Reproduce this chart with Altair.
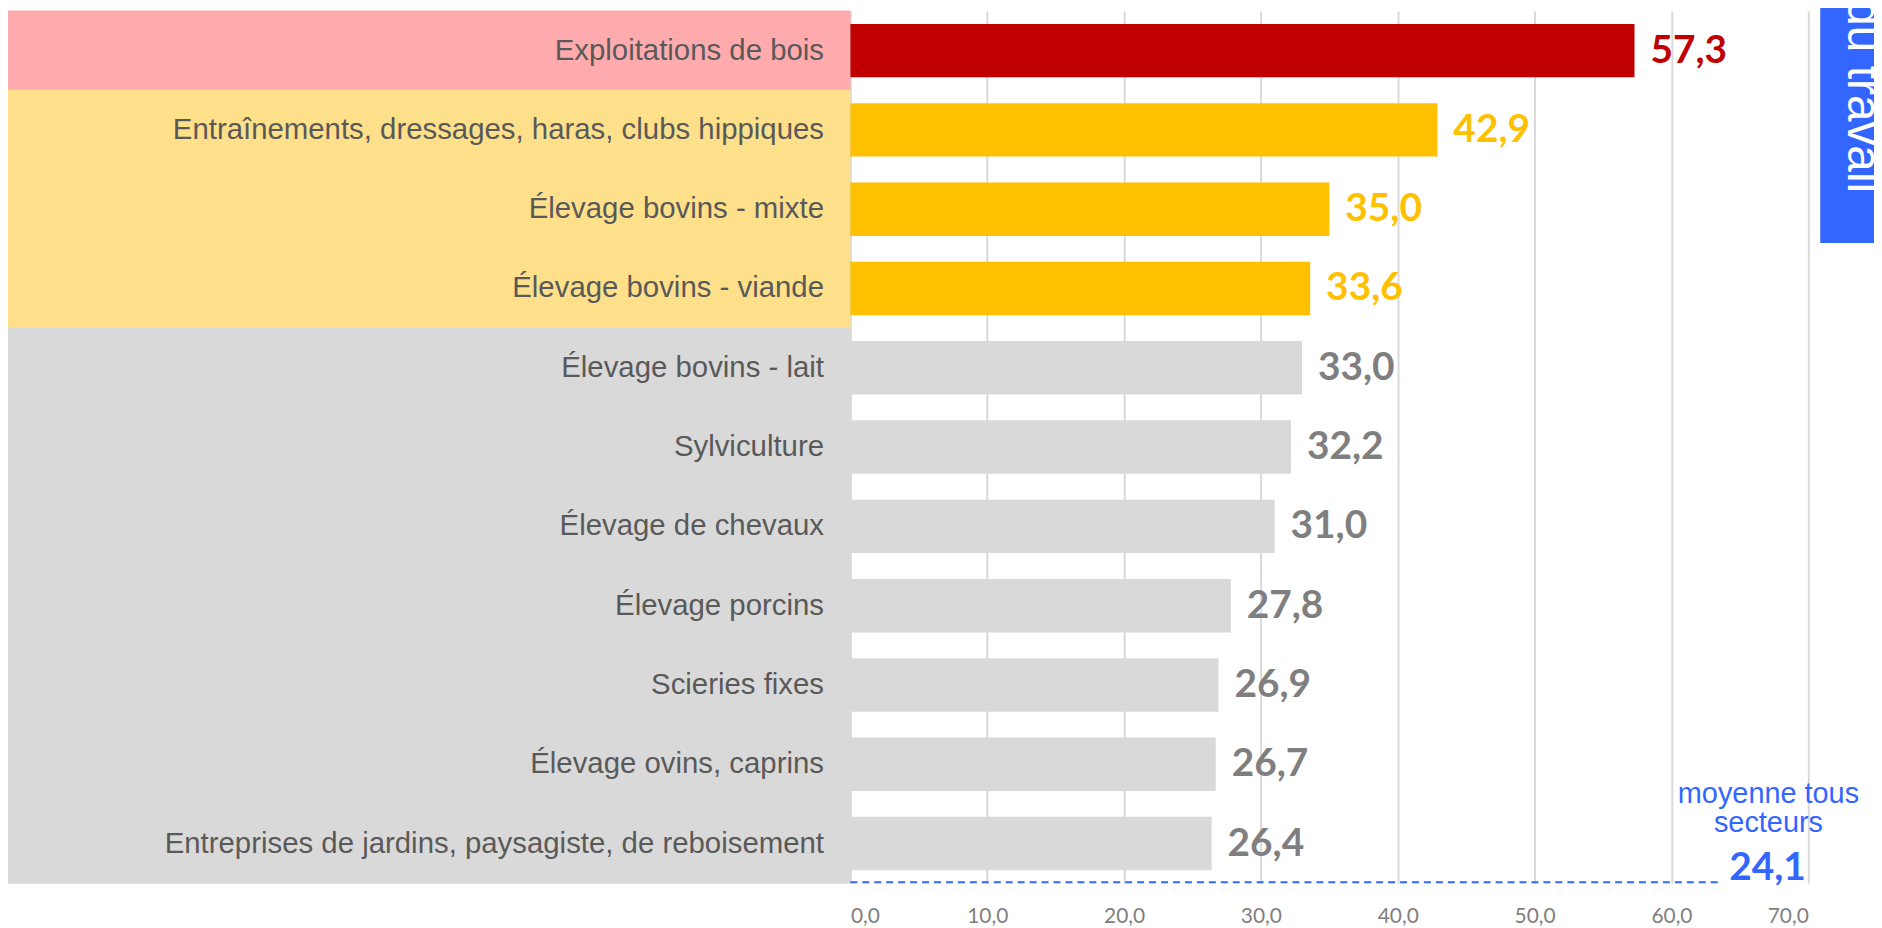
import altair as alt
import pandas as pd

# ---- data ----
categories = [
    "Exploitations de bois",
    "Entraînements, dressages, haras, clubs hippiques",
    "Élevage bovins - mixte",
    "Élevage bovins - viande",
    "Élevage bovins - lait",
    "Sylviculture",
    "Élevage de chevaux",
    "Élevage porcins",
    "Scieries fixes",
    "Élevage ovins, caprins",
    "Entreprises de jardins, paysagiste, de reboisement",
]
values = [57.3, 42.9, 35.0, 33.6, 33.0, 32.2, 31.0, 27.8, 26.9, 26.7, 26.4]
groups = ["haut", "moyen", "moyen", "moyen", "bas", "bas", "bas", "bas", "bas", "bas", "bas"]
x_ticks = [0, 10, 20, 30, 40, 50, 60, 70]
moyenne = [24.1]
moyenne_label = ["moyenne tous", "secteurs"]
side_title = ["du travail"]

group_domain = ["haut", "moyen", "bas"]
bar_colors = ["#c00000", "#ffc000", "#d9d9d9"]
band_colors = ["#ffabad", "#ffe08a", "#d9d9d9"]
label_colors = ["#c00000", "#ffc000", "#7f7f7f"]
BLUE = "#3366ff"

df = pd.DataFrame({"cat": categories, "val": values, "grp": groups})
df["label"] = [f"{v:.1f}".replace(".", ",") for v in values]

df_moy = pd.DataFrame({"moy": moyenne, "label": [f"{v:.1f}".replace(".", ",") for v in moyenne]})
df_side = pd.DataFrame({"t": side_title})

y_enc = alt.Y(
    "cat:N",
    sort=categories,
    scale=alt.Scale(paddingInner=0.326, paddingOuter=0.163),
    axis=alt.Axis(
        title=None,
        ticks=False,
        domain=False,
        labelFont="Liberation Sans",
        labelFontSize=29.5,
        labelColor="#595959",
        labelPadding=27,
        labelLimit=1000,
        zindex=2,
    ),
)

x_enc = alt.X(
    "val:Q",
    scale=alt.Scale(domain=[0, 70], nice=False, zero=True),
    axis=alt.Axis(
        title=None,
        values=x_ticks,
        labelExpr="replace(format(datum.value, '.1f'), '.', ',')",
        grid=True,
        gridColor="#d9d9d9",
        gridWidth=2,
        domain=False,
        ticks=False,
        labelFont="Lato",
        labelFontSize=21,
        labelColor="#808080",
        labelPadding=22,
        zindex=0,
    ),
)

bands = alt.Chart(df).mark_bar(height={"band": 1.50}).encode(
    y=y_enc,
    x=alt.value(-846),
    x2=alt.value(0),
    color=alt.Color("grp:N", scale=alt.Scale(domain=group_domain, range=band_colors), legend=None),
)

bars = alt.Chart(df).mark_bar().encode(
    y=y_enc,
    x=x_enc,
    color=alt.Color("grp:N", scale=alt.Scale(domain=group_domain, range=bar_colors), legend=None),
)

labels = alt.Chart(df).mark_text(
    align="left", baseline="middle", dx=16, font="Lato", fontWeight="bold", fontSize=39
).encode(
    y=y_enc,
    x=x_enc,
    text="label:N",
    color=alt.Color("grp:N", scale=alt.Scale(domain=group_domain, range=label_colors), legend=None),
)

moy_line = alt.Chart(df_moy).mark_rule(color=BLUE, strokeWidth=2, strokeDash=[7, 5]).encode(
    x=alt.value(0), x2=alt.value(876), y=alt.value(875)
)

moy_text = alt.Chart(df_moy).mark_text(
    text=moyenne_label, align="center", baseline="alphabetic", lineHeight=30,
    font="Liberation Sans", fontSize=29, color=BLUE
).encode(x=alt.value(922), y=alt.value(795))

moy_value = alt.Chart(df_moy).mark_text(
    align="center", baseline="alphabetic", font="Lato", fontWeight="bold", fontSize=39, color=BLUE
).encode(x=alt.value(921), y=alt.value(873), text="label:N")

side_box = alt.Chart(df_side).mark_rect(color=BLUE).encode(
    x=alt.value(974), x2=alt.value(1040), y=alt.value(-9), y2=alt.value(233)
)

side_text = alt.Chart(df_side).mark_text(
    angle=90, align="right", baseline="alphabetic", font="Liberation Sans", fontSize=48, color="white"
).encode(x=alt.value(1002), y=alt.value(183), text="t:N")

chart = (
    alt.layer(bands, bars, labels, moy_line, moy_text, moy_value, side_box, side_text)
    .resolve_scale(color="independent")
    .properties(
        width=962,
        height=876,
        autosize=alt.AutoSizeParams(type="none"),
        padding={"left": 846, "top": 1, "right": 66, "bottom": 41},
        background="white",
    )
    .configure_view(stroke=None)
)

chart.save("out.html", embed_options={"renderer": "svg", "actions": False})
